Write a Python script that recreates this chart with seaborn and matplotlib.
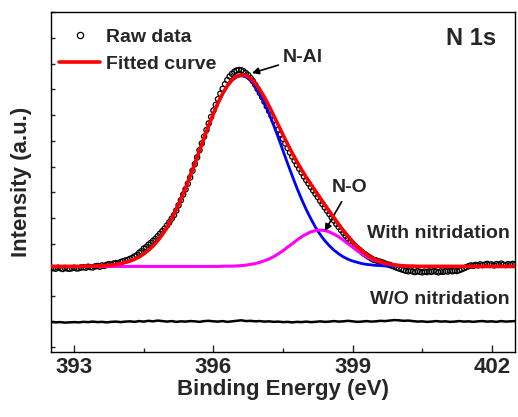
import numpy as np
import matplotlib
matplotlib.use("Agg")
import matplotlib.pyplot as plt
from matplotlib.lines import Line2D
import seaborn as sns

# ---------------- data ----------------
fit_energy = np.round(np.arange(392.5, 402.51, 0.1), 2)
raw_energy = np.round(np.arange(392.5, 402.51, 0.05), 2)

# N-Al component (with background)
n_al = [3.13, 3.13, 3.13, 3.13, 3.13,
        3.13, 3.13, 3.14, 3.14, 3.14, 3.15, 3.16, 3.17, 3.19, 3.21,
        3.24, 3.29, 3.34, 3.41, 3.50, 3.62, 3.76, 3.93, 4.13, 4.37,
        4.65, 4.98, 5.34, 5.74, 6.17, 6.64, 7.12, 7.62, 8.12, 8.60,
        9.06, 9.47, 9.83, 10.13, 10.35, 10.48, 10.53, 10.48, 10.35, 10.13,
        9.83, 9.47, 9.06, 8.60, 8.12, 7.62, 7.12, 6.64, 6.17, 5.74,
        5.34, 4.98, 4.65, 4.37, 4.13, 3.93, 3.76, 3.62, 3.50, 3.41,
        3.34, 3.29, 3.24, 3.21, 3.19, 3.17, 3.16, 3.15, 3.14, 3.14,
        3.14, 3.13, 3.13, 3.13, 3.13, 3.13, 3.13, 3.13, 3.13, 3.13,
        3.13, 3.13, 3.13, 3.13, 3.13, 3.13, 3.13, 3.13, 3.13, 3.13,
        3.13, 3.13, 3.13, 3.13, 3.13, 3.13]

# N-O component (with background)
n_o = [3.13, 3.13, 3.13, 3.13, 3.13,
       3.13, 3.13, 3.13, 3.13, 3.13, 3.13, 3.13, 3.13, 3.13, 3.13,
       3.13, 3.13, 3.13, 3.13, 3.13, 3.13, 3.13, 3.13, 3.13, 3.13,
       3.13, 3.13, 3.13, 3.13, 3.13, 3.13, 3.13, 3.13, 3.13, 3.13,
       3.13, 3.13, 3.14, 3.14, 3.14, 3.15, 3.16, 3.18, 3.21, 3.24,
       3.29, 3.35, 3.42, 3.51, 3.62, 3.74, 3.88, 4.01, 4.15, 4.28,
       4.38, 4.47, 4.52, 4.54, 4.52, 4.47, 4.38, 4.28, 4.15, 4.01,
       3.88, 3.74, 3.62, 3.51, 3.42, 3.35, 3.29, 3.24, 3.21, 3.18,
       3.16, 3.15, 3.14, 3.14, 3.13, 3.13, 3.13, 3.13, 3.13, 3.13,
       3.13, 3.13, 3.13, 3.13, 3.13, 3.13, 3.13, 3.13, 3.13, 3.13,
       3.13, 3.13, 3.13, 3.13, 3.13, 3.13]

# Fitted envelope
fitted = [3.13, 3.13, 3.13, 3.13, 3.13,
          3.13, 3.13, 3.14, 3.14, 3.14, 3.15, 3.16, 3.17, 3.19, 3.21,
          3.24, 3.29, 3.34, 3.41, 3.50, 3.62, 3.76, 3.93, 4.13, 4.37,
          4.65, 4.98, 5.34, 5.74, 6.17, 6.64, 7.12, 7.62, 8.12, 8.60,
          9.06, 9.48, 9.84, 10.14, 10.36, 10.51, 10.56, 10.54, 10.43, 10.24,
          9.99, 9.69, 9.35, 8.98, 8.61, 8.23, 7.87, 7.52, 7.19, 6.88,
          6.59, 6.32, 6.05, 5.78, 5.52, 5.27, 5.01, 4.76, 4.52, 4.30,
          4.09, 3.90, 3.74, 3.60, 3.48, 3.39, 3.32, 3.26, 3.22, 3.19,
          3.17, 3.15, 3.14, 3.14, 3.13, 3.13, 3.13, 3.13, 3.13, 3.13,
          3.13, 3.13, 3.13, 3.13, 3.13, 3.13, 3.13, 3.13, 3.13, 3.13,
          3.13, 3.13, 3.13, 3.13, 3.13, 3.13]

# Raw data, with nitridation
raw_with = [3.05, 3.07, 3.04, 3.08, 3.06, 3.03, 3.07, 3.05, 3.04, 3.06,
            3.08, 3.05, 3.06, 3.09, 3.10, 3.08, 3.12, 3.10, 3.09, 3.13,
            3.15, 3.12, 3.17, 3.15, 3.19, 3.22, 3.20, 3.24, 3.26, 3.25,
            3.30, 3.33, 3.36, 3.38, 3.42, 3.46, 3.52, 3.57, 3.66, 3.72,
            3.82, 3.88, 3.97, 4.04, 4.12, 4.20, 4.30, 4.40, 4.50, 4.60,
            4.72, 4.84, 4.98, 5.12, 5.30, 5.50, 5.70, 5.92, 6.12, 6.34,
            6.58, 6.84, 7.10, 7.36, 7.64, 7.90, 8.17, 8.42, 8.68, 8.93,
            9.18, 9.40, 9.62, 9.83, 10.02, 10.20, 10.36, 10.50, 10.60, 10.68,
            10.73, 10.75, 10.74, 10.70, 10.63, 10.55, 10.44, 10.32, 10.18, 10.02,
            9.86, 9.70, 9.52, 9.34, 9.16, 8.98, 8.80, 8.62, 8.44, 8.26,
            8.08, 7.90, 7.72, 7.55, 7.39, 7.23, 7.07, 6.92, 6.77, 6.62,
            6.48, 6.35, 6.21, 6.08, 5.95, 5.82, 5.68, 5.55, 5.42, 5.29,
            5.16, 5.03, 4.91, 4.78, 4.66, 4.54, 4.43, 4.32, 4.21, 4.11,
            4.01, 3.92, 3.84, 3.77, 3.69, 3.62, 3.56, 3.50, 3.44, 3.39,
            3.37, 3.33, 3.31, 3.28, 3.24, 3.21, 3.19, 3.15, 3.12, 3.08,
            3.05, 3.02, 2.99, 2.96, 2.94, 2.97, 2.93, 2.91, 2.95, 2.92,
            2.90, 2.93, 2.91, 2.94, 2.92, 2.95, 2.93, 2.90, 2.94, 2.92,
            2.95, 2.93, 2.96, 2.94, 2.97, 2.95, 2.99, 3.02, 3.06, 3.10,
            3.14, 3.17, 3.15, 3.19, 3.17, 3.21, 3.18, 3.20, 3.23, 3.19,
            3.21, 3.17, 3.22, 3.19, 3.24, 3.20, 3.18, 3.22, 3.19, 3.23,
            3.20]

# Raw data, without nitridation
raw_without = [0.98, 0.96, 0.97, 0.95, 0.96,
               0.97, 0.96, 0.98, 0.97, 0.99, 0.97, 0.98, 0.96, 0.98, 0.99,
               0.97, 0.99, 1.00, 0.98, 1.01, 0.99, 1.02, 1.00, 1.03, 1.01,
               0.99, 1.01, 0.98, 1.00, 0.99, 1.01, 1.00, 0.98, 1.01, 1.02,
               1.00, 0.99, 1.01, 0.98, 1.00, 1.02, 1.04, 1.01, 1.02, 1.00,
               1.01, 0.99, 1.00, 0.98, 0.99, 0.97, 0.98, 0.96, 0.98, 0.97,
               0.99, 0.97, 0.98, 1.00, 0.98, 0.99, 1.01, 0.99, 1.00, 1.02,
               1.00, 0.98, 0.99, 1.01, 0.99, 1.00, 1.02, 1.01, 1.03, 1.05,
               1.04, 1.02, 1.03, 1.01, 0.99, 1.00, 0.98, 0.99, 1.01, 0.99,
               1.00, 0.98, 0.99, 1.01, 0.99, 1.00, 0.98, 1.00, 1.01, 0.99,
               1.00, 0.98, 1.01, 0.99, 1.00, 1.01]

x_major = [393, 396, 399, 402]
x_minor = [394.5, 397.5, 400.5]

# ---------------- style ----------------
sns.set_style("ticks")
plt.rcParams["font.family"] = ["Liberation Sans", "DejaVu Sans"]
plt.rcParams["font.weight"] = "bold"
plt.rcParams["axes.labelweight"] = "bold"

fig = plt.figure(figsize=(5.18, 4.17), dpi=100)
ax = fig.add_axes([51 / 518, 1 - 351.5 / 417, 464 / 518, 339.5 / 417])

sns.scatterplot(x=raw_energy, y=raw_with, ax=ax, marker="o", s=14,
                facecolor="none", edgecolor="black", linewidth=0.9, zorder=2)
sns.lineplot(x=fit_energy, y=n_al, ax=ax, color="#0000ff", linewidth=2.0, zorder=3)
sns.lineplot(x=fit_energy, y=n_o, ax=ax, color="#ff00ff", linewidth=2.2, zorder=3)
sns.lineplot(x=fit_energy, y=fitted, ax=ax, color="#ff0000", linewidth=2.6, zorder=4)
sns.lineplot(x=fit_energy, y=raw_without, ax=ax, color="black", linewidth=1.8, zorder=3)

ax.set_xlim(392.5, 402.5)
ax.set_ylim(-0.17, 13.0)
ax.set_xticks(x_major)
ax.set_xticks(x_minor, minor=True)
ax.set_yticks(range(0, 14))
ax.set_yticklabels([])
ax.tick_params(axis="x", which="major", direction="in", length=5, width=1,
               labelsize=16, pad=4)
ax.tick_params(axis="x", which="minor", direction="in", length=3, width=1)
ax.tick_params(axis="y", which="major", direction="in", length=3, width=1)
for lab in ax.get_xticklabels():
    lab.set_fontweight("bold")
for s in ax.spines.values():
    s.set_linewidth(1.0)
    s.set_color("black")
    s.set_visible(True)

ax.set_xlabel("Binding Energy (eV)", fontsize=16, fontweight="bold", labelpad=1)
ax.set_ylabel("Intensity (a.u.)", fontsize=16, fontweight="bold", labelpad=10)

handles = [Line2D([], [], marker="o", ls="none", mfc="none", mec="black", ms=4.5, mew=0.9),
           Line2D([], [], color="#ff0000", lw=2.6)]
ax.legend(handles, ["Raw data", "Fitted curve"], loc="upper left",
          bbox_to_anchor=(-0.016, 0.997), frameon=False,
          handlelength=2.1, handletextpad=0.3, labelspacing=0.48,
          borderpad=0.3, prop={"weight": "bold", "size": 14})

ax.text(402.1, 11.98, "N 1s", fontsize=17, fontweight="bold", ha="right", va="center")
ax.annotate("N-Al", xy=(396.83, 10.63), xytext=(397.5, 11.23), fontsize=14,
            fontweight="bold", ha="left", va="center",
            arrowprops=dict(arrowstyle="-|>", color="black", lw=1.2,
                            shrinkA=1, shrinkB=0, mutation_scale=10))
ax.annotate("N-O", xy=(398.40, 4.50), xytext=(398.94, 6.19), fontsize=14,
            fontweight="bold", ha="center", va="center",
            arrowprops=dict(arrowstyle="-|>", color="black", lw=1.2,
                            shrinkA=2, shrinkB=0, mutation_scale=10))
ax.text(402.38, 4.39, "With nitridation", fontsize=14, fontweight="bold",
        ha="right", va="center")
ax.text(402.38, 1.83, "W/O nitridation", fontsize=14, fontweight="bold",
        ha="right", va="center")

fig.savefig("out.png", dpi=100)
